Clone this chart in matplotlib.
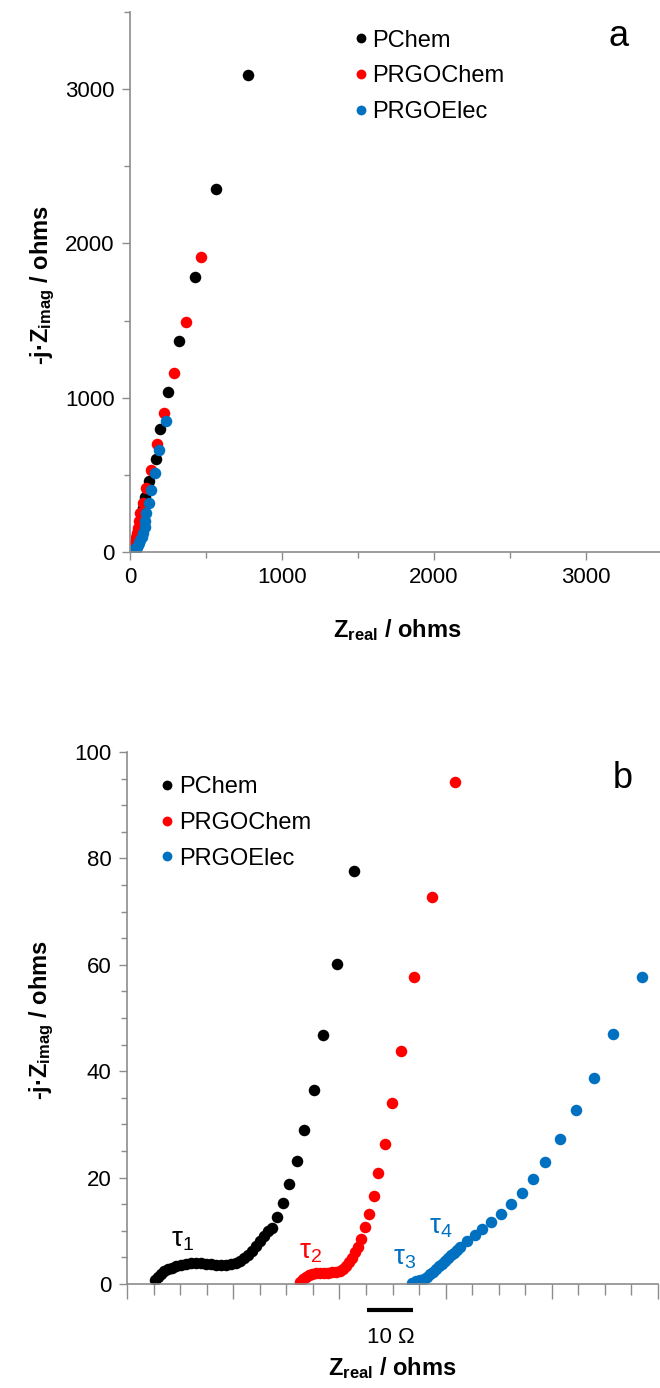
"""
Nyquist plots (a: full range, b: high-frequency zoom with scale bar)
"""
import matplotlib
matplotlib.use("Agg")
import matplotlib.pyplot as plt
from matplotlib.ticker import MultipleLocator, NullFormatter

plt.rcParams["font.family"] = ["Liberation Sans", "DejaVu Sans"]
plt.rcParams["mathtext.fontset"] = "custom"
plt.rcParams["mathtext.rm"] = "Liberation Sans"
plt.rcParams["mathtext.bf"] = "Liberation Sans:bold"
plt.rcParams["mathtext.it"] = "Liberation Sans:italic"

labels = ["PChem", "PRGOChem", "PRGOElec"]
colores = ["#000000", "#FF0000", "#0070C0"]

# --- panel a: Z real / Z imag in ohms ---
a_pchem_x = [8, 16, 24, 31, 35, 37, 40, 44, 51, 56, 62, 70, 78, 88, 101, 128, 169, 195, 253, 325, 428, 564, 774]
a_pchem_y = [0.7, 3.8, 3.5, 7.4, 12.6, 18.8, 29, 46.8, 77.6, 100, 128, 165, 212, 285, 359, 457, 602, 797, 1039, 1365, 1781, 2351, 3089]

a_prgochem_x = [3, 7, 13, 17, 20, 23, 28, 37, 44, 50, 57, 64, 84, 106, 141, 178, 226, 288, 366, 470]
a_prgochem_y = [0.4, 2.1, 3.6, 10.7, 20.8, 34.1, 57.7, 94.4, 123, 157, 200, 255, 320, 418, 532, 699, 901, 1160, 1489, 1914]

a_prgoelec_x = [10, 13, 20, 27, 34, 39, 46, 53, 60, 68, 77, 86, 96, 102, 108, 123, 139, 162, 193, 239]
a_prgoelec_y = [0.2, 1.3, 7.0, 11.7, 17.1, 23.0, 32.7, 47.0, 57.7, 75, 98, 125, 160, 200, 251, 316, 403, 511, 662, 851]

# --- panel b: curves shifted along x (arbitrary units, bar = 10 ohm) ---
b_pchem_x = [5.3, 5.8, 6.4, 7.0, 7.7, 8.5, 9.2, 10.2, 11.1, 12.1, 13.0, 13.9, 14.9, 15.8, 16.8,
             17.7, 18.6, 19.6, 20.5, 21.3, 22.0, 22.8, 23.5, 24.3, 25.1, 25.8, 26.6, 27.3, 28.3,
             29.4, 30.5, 32.0, 33.3, 35.2, 36.9, 39.6, 42.8]
b_pchem_y = [0.7, 1.4, 1.9, 2.4, 2.8, 3.1, 3.4, 3.6, 3.8, 3.9, 3.9, 3.9, 3.8, 3.7, 3.6,
             3.6, 3.6, 3.7, 3.9, 4.3, 4.8, 5.5, 6.2, 7.1, 8.0, 9.0, 9.9, 10.6, 12.6,
             15.2, 18.8, 23.1, 29.0, 36.5, 46.8, 60.2, 77.6]

b_prgochem_x = [32.6, 33.2, 33.7, 34.3, 34.8, 35.6, 36.4, 37.1, 37.9, 38.6, 39.4, 40.1, 40.7, 41.2,
                41.8, 42.4, 42.9, 43.5, 44.1, 44.8, 45.6, 46.5, 47.3, 48.6, 49.9, 51.6, 54.1, 57.4, 61.8]
b_prgochem_y = [0.4, 0.9, 1.3, 1.6, 1.8, 2.0, 2.1, 2.1, 2.1, 2.2, 2.3, 2.5, 2.9, 3.4,
                4.1, 4.9, 6.0, 7.0, 8.4, 10.8, 13.1, 16.5, 20.8, 26.4, 34.1, 43.8, 57.7, 72.7, 94.4]

b_prgoelec_x = [53.7, 54.4, 55.2, 55.9, 56.5, 57.1, 57.6, 58.2, 58.8, 59.3, 59.9, 60.5, 61.0, 61.6,
                62.2, 62.7, 64.0, 65.5, 66.9, 68.6, 70.4, 72.3, 74.4, 76.5, 78.7, 81.5, 84.6, 88.0,
                91.5, 97.0]
b_prgoelec_y = [0.2, 0.5, 0.8, 1.0, 1.3, 1.8, 2.3, 2.8, 3.3, 3.8, 4.3, 4.9, 5.4, 5.9,
                6.4, 7.0, 8.1, 9.2, 10.3, 11.7, 13.2, 15.0, 17.1, 19.7, 23.0, 27.3, 32.7, 38.8,
                47.0, 57.7]

tau_labels = [r"$\mathregular{\tau_1}$", r"$\mathregular{\tau_2}$", r"$\mathregular{\tau_3}$", r"$\mathregular{\tau_4}$"]
tau_x = [10.5, 34.5, 52.2, 59.1]
tau_y = [8.3, 6.0, 4.9, 10.7]
tau_colores = ["#000000", "#FF0000", "#0070C0", "#0070C0"]

GRIS = "#8c8c8c"
MS = 8.3


def estilo(ax):
    for lado in ["top", "right"]:
        ax.spines[lado].set_visible(False)
    for lado in ["left", "bottom"]:
        ax.spines[lado].set_color(GRIS)
        ax.spines[lado].set_linewidth(1.2)
    ax.tick_params(which="both", direction="out", color=GRIS, width=1.0, labelsize=16, pad=5)


def leyenda(ax, x, y):
    ax.legend(loc="upper left", bbox_to_anchor=(x, y), frameon=False, fontsize=17,
              handletextpad=0.0, handlelength=1.0, labelspacing=0.58, borderaxespad=0,
              markerscale=0.85)


fig = plt.figure(figsize=(6.6, 13.88), dpi=100)

# ---------------- a ----------------
ax1 = fig.add_axes([130 / 660, 836 / 1388, 530 / 660, 540 / 1388])
series_a = [(a_pchem_x, a_pchem_y), (a_prgochem_x, a_prgochem_y), (a_prgoelec_x, a_prgoelec_y)]
for (x, y), lab, c in zip(series_a, labels, colores):
    ax1.plot(x, y, "o", color=c, markersize=MS, markeredgewidth=0, label=lab)
ax1.set_xlim(0, 3490)
ax1.set_ylim(0, 3500)
ax1.xaxis.set_major_locator(MultipleLocator(1000))
ax1.xaxis.set_minor_locator(MultipleLocator(500))
ax1.yaxis.set_major_locator(MultipleLocator(1000))
ax1.yaxis.set_minor_locator(MultipleLocator(500))
estilo(ax1)
ax1.tick_params(which="major", length=6)
ax1.tick_params(which="minor", length=4)
ax1.set_xlabel(r"$\mathbf{Z_{real}}$ / ohms", fontsize=17, fontweight="bold")
ax1.set_ylabel(r"-j·$\mathbf{Z_{imag}}$ / ohms", fontsize=17, fontweight="bold")
ax1.xaxis.set_label_coords(0.504, -0.144)
ax1.xaxis.label.set_va("center")
ax1.yaxis.set_label_coords(-0.165, 0.494)
ax1.yaxis.label.set_va("center")
leyenda(ax1, 0.395, 0.985)
ax1.text(3217, 3338, "a", fontsize=26, ha="center", va="center")

# ---------------- b ----------------
ax2 = fig.add_axes([127 / 660, 104 / 1388, 531 / 660, 532 / 1388])
series_b = [(b_pchem_x, b_pchem_y), (b_prgochem_x, b_prgochem_y), (b_prgoelec_x, b_prgoelec_y)]
for (x, y), lab, c in zip(series_b, labels, colores):
    ax2.plot(x, y, "o", color=c, markersize=MS, markeredgewidth=0, label=lab)
ax2.set_xlim(0, 100)
ax2.set_ylim(0, 100)
ax2.xaxis.set_major_locator(MultipleLocator(20))
ax2.xaxis.set_minor_locator(MultipleLocator(5))
ax2.xaxis.set_major_formatter(NullFormatter())
ax2.yaxis.set_major_locator(MultipleLocator(20))
ax2.yaxis.set_minor_locator(MultipleLocator(5))
estilo(ax2)
ax2.tick_params(axis="y", which="major", length=6)
ax2.tick_params(axis="y", which="minor", length=4)
ax2.tick_params(axis="x", which="major", length=11)
ax2.tick_params(axis="x", which="minor", length=8)
ax2.set_xlabel(r"$\mathbf{Z_{real}}$ / ohms", fontsize=17, fontweight="bold")
ax2.set_ylabel(r"-j·$\mathbf{Z_{imag}}$ / ohms", fontsize=17, fontweight="bold")
ax2.xaxis.set_label_coords(0.499, -0.158)
ax2.xaxis.label.set_va("center")
ax2.yaxis.set_label_coords(-0.16, 0.496)
ax2.yaxis.label.set_va("center")
leyenda(ax2, 0.035, 0.972)
ax2.text(93.4, 95.1, "b", fontsize=26, ha="center", va="center")

for t, x, y, c in zip(tau_labels, tau_x, tau_y, tau_colores):
    ax2.text(x, y, t, color=c, fontsize=20, ha="center", va="center")

# barra de escala: 10 ohm
ax2.plot([45.2, 53.9], [-4.9, -4.9], color="black", linewidth=3, clip_on=False, solid_capstyle="butt")
ax2.text(49.6, -10.0, "10 Ω", fontsize=16, ha="center", va="center")

fig.savefig("out.png", dpi=100)
